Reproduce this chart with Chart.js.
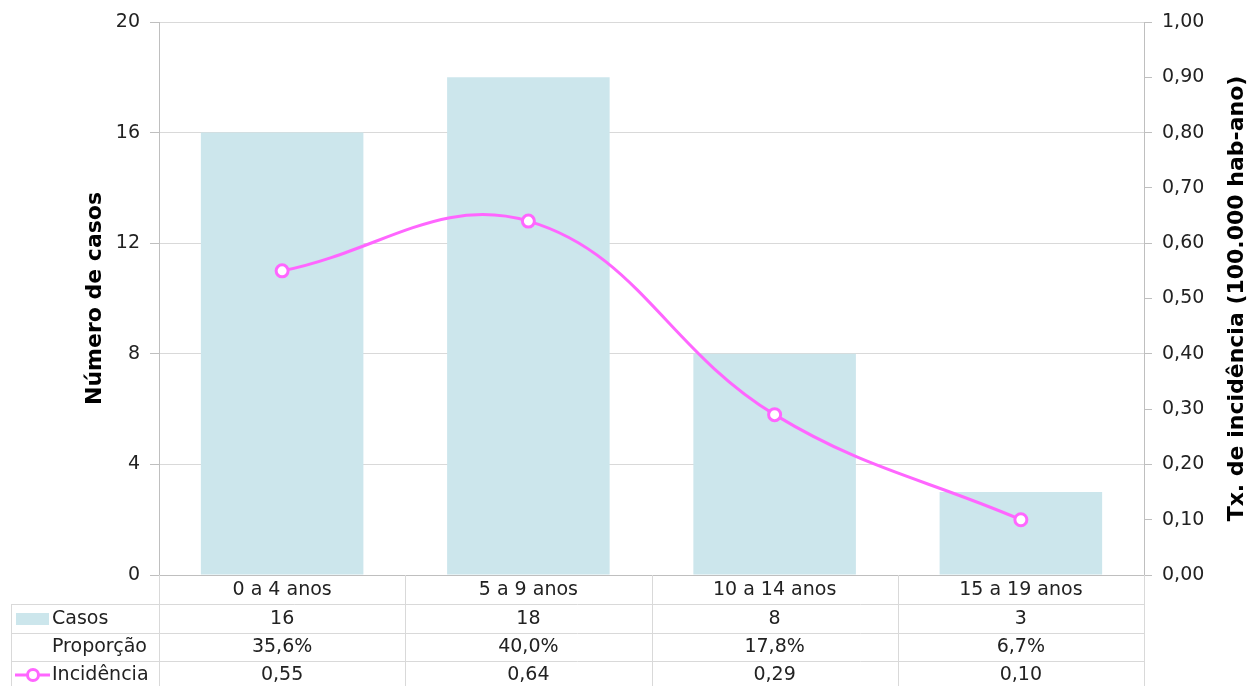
<!DOCTYPE html>
<html>
<head>
<meta charset="utf-8">
<script src="https://cdn.jsdelivr.net/npm/chart.js@4.4.1/dist/chart.umd.min.js"></script>
<style>
  html, body { margin: 0; padding: 0; background: #ffffff; }
  #wrap { width: 1254px; height: 686px; position: relative; }
</style>
</head>
<body>
<div id="wrap"><canvas id="chart" width="1254" height="686"></canvas></div>
<script>
// Casos por faixa etária, proporção e taxa de incidência
const categories = ['0 a 4 anos', '5 a 9 anos', '10 a 14 anos', '15 a 19 anos'];
const casos = [16, 18, 8, 3];
const proporcao = [35.6, 40.0, 17.8, 6.7];
const incidencia = [0.55, 0.64, 0.29, 0.10];

const leftTitle = 'Número de casos';
const rightTitle = 'Tx. de incidência (100.000 hab-ano)';
const rowLabels = ['Casos', 'Proporção', 'Incidência'];

const FONT = "'DejaVu Sans', Verdana, sans-serif";
const TEXT = '#222222';
const GRID = '#d9d9d9';
const AXIS = '#bfbfbf';
const BAR = '#cce6ec';
const LINE = '#ff66ff';

const fmt = (v, d) => v.toFixed(d).replace('.', ',');

// Data table under the x axis plus both axis titles
const tablePlugin = {
  id: 'tablePlugin',
  afterDraw(chart) {
    const ctx = chart.ctx;
    const xs = chart.scales.x;
    const area = chart.chartArea;
    const n = categories.length;
    const step = (area.right - area.left) / n;
    const rowLines = [604, 633, 661];
    const rowCenters = [590, 619, 647.5, 675];
    const tableLeft = 11;
    const bottom = chart.height;

    ctx.save();
    ctx.strokeStyle = GRID;
    ctx.lineWidth = 1;
    // horizontal row separators
    rowLines.forEach(y => {
      ctx.beginPath();
      ctx.moveTo(tableLeft, y + 0.5);
      ctx.lineTo(area.right, y + 0.5);
      ctx.stroke();
    });
    // vertical column separators at category edges
    for (let i = 0; i <= n; i++) {
      const x = Math.round(i < n ? xs.getPixelForValue(i) - step / 2 : xs.getPixelForValue(n - 1) + step / 2) + 0.5;
      ctx.beginPath();
      ctx.moveTo(x, area.bottom);
      ctx.lineTo(x, bottom);
      ctx.stroke();
    }
    ctx.beginPath();
    ctx.moveTo(tableLeft + 0.5, rowLines[0]);
    ctx.lineTo(tableLeft + 0.5, bottom);
    ctx.stroke();

    // cell text
    ctx.fillStyle = TEXT;
    ctx.font = '19px ' + FONT;
    ctx.textAlign = 'center';
    ctx.textBaseline = 'middle';
    categories.forEach((c, i) => {
      const x = xs.getPixelForValue(i);
      ctx.fillText(c, x, rowCenters[0]);
      ctx.fillText(String(casos[i]), x, rowCenters[1]);
      ctx.fillText(fmt(proporcao[i], 1) + '%', x, rowCenters[2]);
      ctx.fillText(fmt(incidencia[i], 2), x, rowCenters[3]);
    });

    // row headers with legend keys
    ctx.textAlign = 'left';
    const labelX = 52;
    rowLabels.forEach((t, i) => ctx.fillText(t, labelX, rowCenters[i + 1]));
    ctx.fillStyle = BAR;
    ctx.fillRect(16, rowCenters[1] - 6, 33, 12);
    ctx.strokeStyle = LINE;
    ctx.lineWidth = 3;
    ctx.beginPath();
    ctx.moveTo(15, rowCenters[3]);
    ctx.lineTo(50, rowCenters[3]);
    ctx.stroke();
    ctx.beginPath();
    ctx.arc(33, rowCenters[3], 5.5, 0, Math.PI * 2);
    ctx.fillStyle = '#ffffff';
    ctx.fill();
    ctx.stroke();

    // axis titles, both reading bottom to top
    ctx.fillStyle = '#000000';
    ctx.font = 'bold 22px ' + FONT;
    ctx.textAlign = 'center';
    ctx.textBaseline = 'middle';
    const cy = (area.top + area.bottom) / 2;
    ctx.translate(95, cy);
    ctx.rotate(-Math.PI / 2);
    ctx.fillText(leftTitle, 0, 0);
    ctx.rotate(Math.PI / 2);
    ctx.translate(-95, -cy);
    ctx.translate(1237, cy);
    ctx.rotate(-Math.PI / 2);
    ctx.fillText(rightTitle, 0, 0);
    ctx.restore();
  }
};

new Chart(document.getElementById('chart'), {
  type: 'bar',
  data: {
    labels: categories,
    datasets: [
      {
        type: 'line',
        label: 'Incidência',
        data: incidencia,
        yAxisID: 'y1',
        borderColor: LINE,
        borderWidth: 3,
        tension: 0.4,
        pointRadius: 6,
        pointHoverRadius: 6,
        pointBackgroundColor: '#ffffff',
        pointBorderColor: LINE,
        pointBorderWidth: 3,
        order: 0
      },
      {
        type: 'bar',
        label: 'Casos',
        data: casos,
        yAxisID: 'y',
        backgroundColor: BAR,
        borderWidth: 0,
        categoryPercentage: 0.66,
        barPercentage: 1,
        order: 1
      }
    ]
  },
  options: {
    responsive: false,
    animation: false,
    layout: { padding: { top: 22, left: 0, right: 0, bottom: 0 } },
    plugins: { legend: { display: false }, tooltip: { enabled: false } },
    scales: {
      x: {
        ticks: { display: false },
        grid: { display: false },
        border: { display: true, color: AXIS },
        afterFit(s) { s.height = 111; }
      },
      y: {
        position: 'left',
        min: 0, max: 20,
        ticks: { stepSize: 4, color: TEXT, font: { family: FONT, size: 19 }, padding: 10 },
        grid: { color: GRID, tickColor: AXIS, tickLength: 9 },
        border: { display: true, color: AXIS },
        afterFit(s) { s.width = 159; }
      },
      y1: {
        position: 'right',
        min: 0, max: 1,
        ticks: {
          stepSize: 0.1, color: TEXT, font: { family: FONT, size: 19 }, padding: 10,
          callback: v => fmt(v, 2)
        },
        grid: { drawOnChartArea: false, tickColor: AXIS, tickLength: 8 },
        border: { display: true, color: AXIS },
        afterFit(s) { s.width = 110; }
      }
    }
  },
  plugins: [tablePlugin]
});
</script>
</body>
</html>
